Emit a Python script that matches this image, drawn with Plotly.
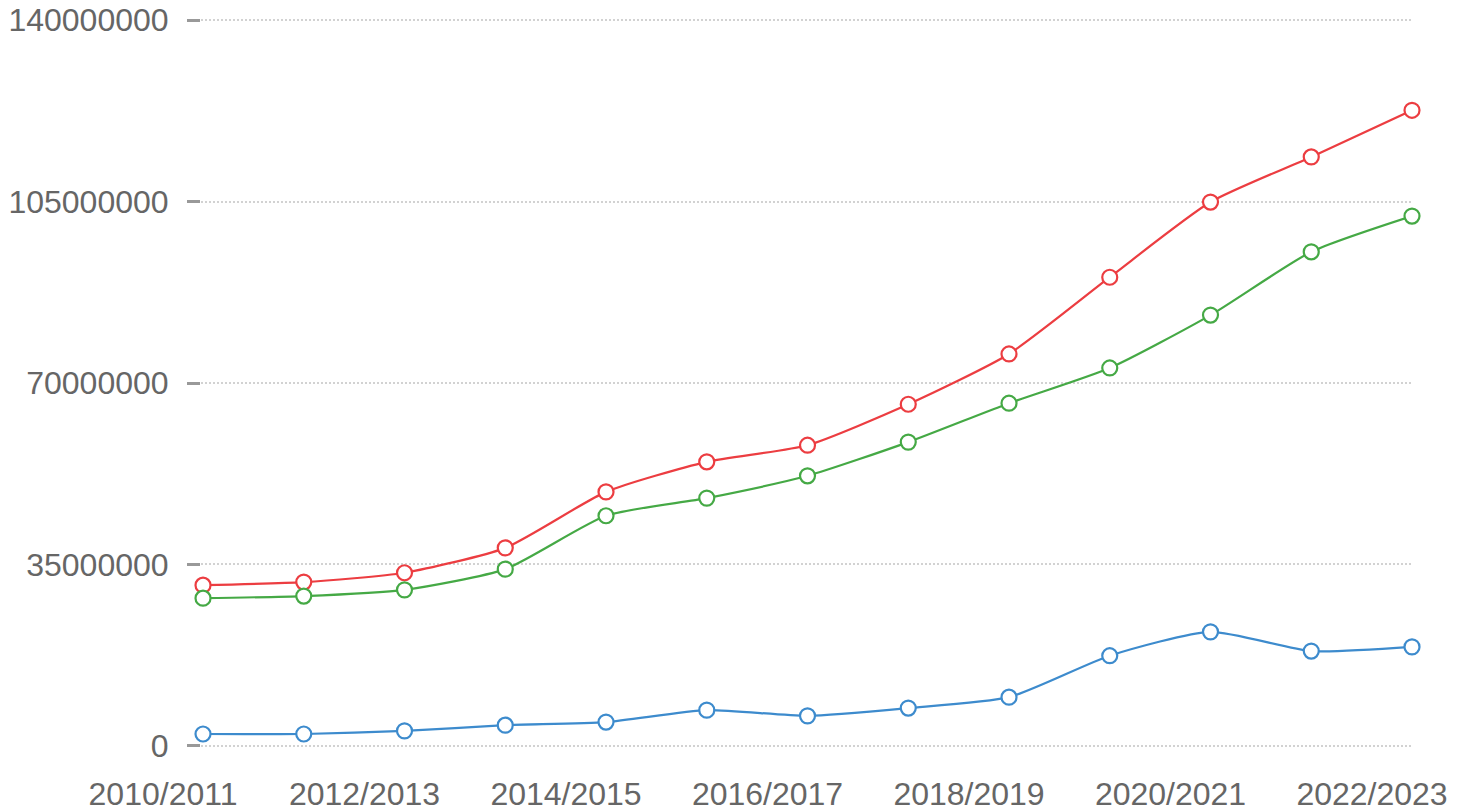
import plotly.graph_objects as go

years = ["2010/2011", "2011/2012", "2012/2013", "2013/2014", "2014/2015", "2015/2016",
         "2016/2017", "2017/2018", "2018/2019", "2019/2020", "2020/2021", "2021/2022", "2022/2023"]
total = [31.0, 31.6, 33.4, 38.2, 49.0, 54.8, 58.0, 65.9, 75.6, 90.4, 104.9, 113.6, 122.6]
green_vals = [28.5, 28.9, 30.1, 34.1, 44.4, 47.8, 52.1, 58.6, 66.1, 72.9, 83.1, 95.3, 102.2]
blue_vals = [2.3, 2.3, 2.9, 4.0, 4.6, 6.9, 5.8, 7.3, 9.4, 17.4, 22.0, 18.3, 19.1]
y_ticks = [0, 35000000, 70000000, 105000000, 140000000]

series = [
    ("Total", total, "#ec3d41"),
    ("Green", green_vals, "#45a945"),
    ("Blue", blue_vals, "#3d8bcd"),
]

xs = list(range(len(years)))
fig = go.Figure()
for name, vals, color in series:
    fig.add_trace(go.Scatter(
        x=xs, y=[v * 1e6 for v in vals], name=name, mode="lines+markers",
        line=dict(color=color, width=2.2, shape="spline", smoothing=0.6),
        marker=dict(symbol="circle", size=15, color="white", line=dict(color=color, width=2.2)),
        cliponaxis=False,
    ))

# page body has an 8px margin, so the figure is offset by 8px
fig.update_layout(
    width=1459, height=804,
    margin=dict(l=193, r=55, t=10, b=64),
    plot_bgcolor="white", paper_bgcolor="white",
    showlegend=False,
    font=dict(family="Liberation Sans, Arial, sans-serif", size=32, color="#666666"),
)
fig.update_xaxes(
    range=[-0.02, 12], automargin=False,
    tickvals=xs[::2], ticktext=years[::2],
    showgrid=False, zeroline=False, showline=False,
    ticks="", ticklabelshift=-40, ticklabelstandoff=24,
)
fig.update_yaxes(
    range=[-400000, 140400000], automargin=False,
    tickvals=y_ticks, tickformat="d", ticklabeloverflow="allow",
    showgrid=True, gridcolor="#d2d2d2", griddash="2px,2px", gridwidth=1.5,
    zeroline=False, showline=False,
    ticks="outside", ticklen=13, tickwidth=3, tickcolor="#999999",
    ticklabelstandoff=12,
)
fig.write_html("out.html")
